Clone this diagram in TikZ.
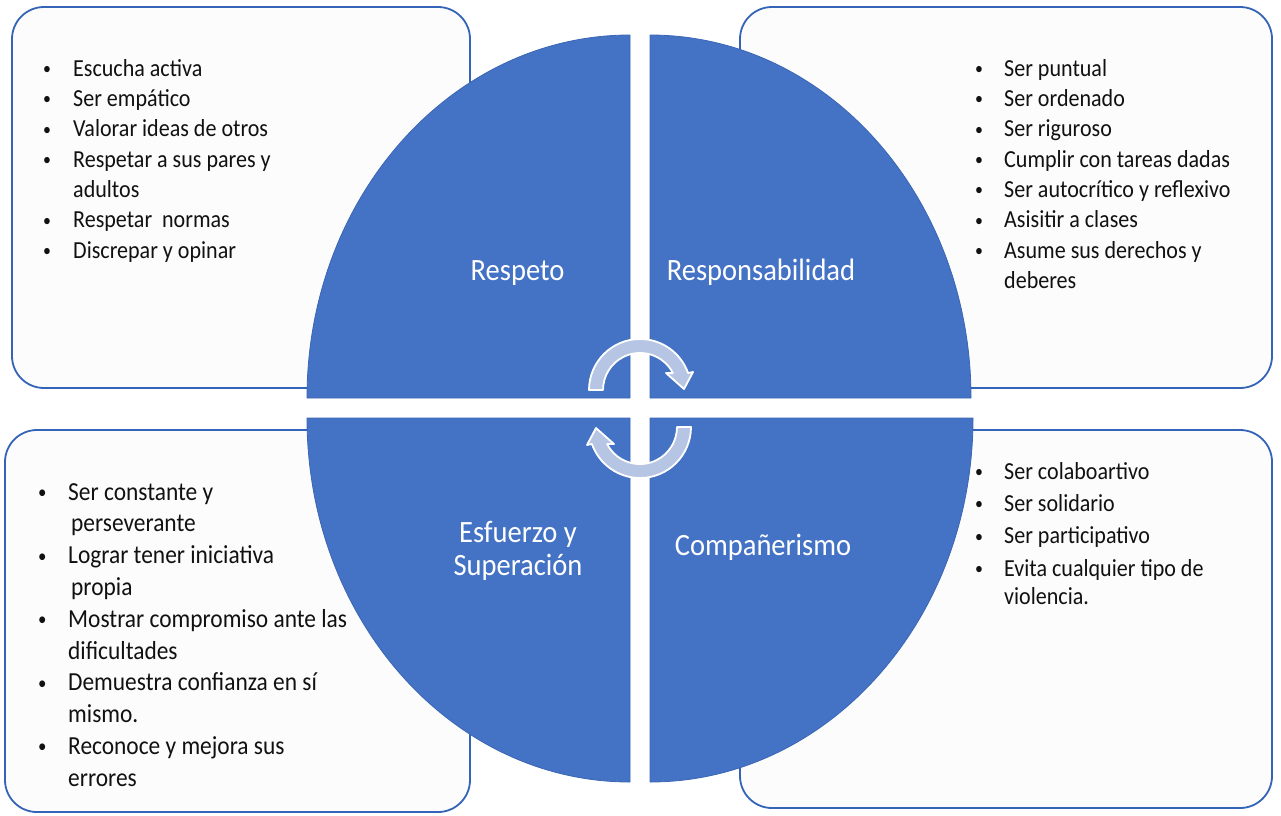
\documentclass[tikz,border=0pt]{standalone}
\usepackage{fontspec}
\setmainfont{Carlito}
\newfontfamily\bodyfont{Carlito}[FakeStretch=0.9]
\newfontfamily\labfont{Carlito}[FakeStretch=0.92]
\definecolor{quad}{HTML}{4472C4}
\definecolor{quadline}{HTML}{3B66B5}
\definecolor{boxline}{HTML}{3464B8}
\definecolor{boxfill}{HTML}{FCFCFC}
\definecolor{arrowfill}{HTML}{B7C5E4}
\definecolor{txt}{HTML}{111111}
\newcommand{\smallbul}{\raisebox{1.6pt}{\scalebox{0.72}{•}}}
\newcommand{\bitem}[2][30pt]{\makebox[#1][l]{\smallbul}#2}
\newcommand{\bcont}[2][30pt]{\hspace*{#1}#2}
\tikzset{
  box/.style={draw=boxline, line width=1.8pt, fill=boxfill, rounded corners=32pt, inner sep=0pt},
  quadrant/.style={fill=quad, draw=quadline, line width=0.8pt},
  listtext/.style={anchor=north west, inner sep=0pt, align=left, text=txt},
  lab/.style={inner sep=0pt, text=white, font=\labfont\fontsize{31}{33}\selectfont},
  cyc/.style={fill=arrowfill, draw=white, line width=1.8pt, line join=round}
}
\begin{document}
\begin{tikzpicture}[x=1pt,y=-1pt]
\useasboundingbox (0,0) rectangle (1281,815);
% boxes
\node[box, minimum width=458pt, minimum height=381pt] (boxTL) at (241,197.5) {};
\node[box, minimum width=532pt, minimum height=381pt] (boxTR) at (1006,197.5) {};
\node[box, minimum width=465pt, minimum height=382pt] (boxBL) at (237.5,621) {};
\node[box, minimum width=532pt, minimum height=378pt] (boxBR) at (1006,619) {};
% quadrants
\path[quadrant] (630,398) -- (307,398) arc[start angle=180, end angle=270, x radius=323, y radius=363] -- cycle;
\path[quadrant] (650,398) -- (650,35) arc[start angle=270, end angle=360, x radius=321, y radius=363] -- cycle;
\path[quadrant] (650,418) -- (973,418) arc[start angle=0, end angle=90, x radius=323, y radius=364] -- cycle;
\path[quadrant] (630,418) -- (630,782) arc[start angle=90, end angle=180, x radius=323, y radius=364] -- cycle;
% labels
\node[lab, anchor=base] (lRes) at (517.5,280) {Respeto};
\node[lab, anchor=base] (lResp) at (761,280) {Responsabilidad};
\node[lab, anchor=north, align=center] (lEsf) at (518,518.9) {\strut Esfuerzo y\\Superación};
\node[lab, anchor=base] (lComp) at (763,555) {Compañerismo};
% lists
\node[listtext, font=\bodyfont\fontsize{24.5}{30.3}\selectfont] (tTL) at (43,54.8) {%
\strut\bitem{Escucha activa}\\
\bitem{Ser empático}\\
\bitem{Valorar ideas de otros}\\
\bitem{Respetar a sus pares y}\\
\bcont{adultos}\\
\bitem{Respetar\ \ normas}\\
\bitem{Discrepar y opinar}};
\node[listtext, font=\bodyfont\fontsize{24.5}{30.3}\selectfont] (tTR) at (975,54.8) {%
\strut\bitem[29pt]{Ser puntual}\\
\bitem[29pt]{Ser ordenado}\\
\bitem[29pt]{Ser riguroso}\\
\bitem[29pt]{Cumplir con tareas dadas}\\
\bitem[29pt]{Ser autocrítico y reflexivo}\\
\bitem[29pt]{Asisitir a clases}\\
\bitem[29pt]{Asume sus derechos y}\\
\bcont[29pt]{deberes}};
\node[listtext, font=\bodyfont\fontsize{26}{31.8}\selectfont] (tBL) at (38,477.7) {%
\strut\bitem{Ser constante y}\\
\bcont[33pt]{perseverante}\\
\bitem{Lograr tener iniciativa}\\
\bcont[33pt]{propia}\\
\bitem{Mostrar compromiso ante las}\\
\bcont{dificultades}\\
\bitem{Demuestra confianza en sí}\\
\bcont{mismo.}\\
\bitem{Reconoce y mejora sus}\\
\bcont{errores}};
\node[listtext, font=\bodyfont\fontsize{24.5}{28}\selectfont] (tBR) at (975,459.4) {%
\strut\bitem[29pt]{Ser colaboartivo}\\[4.3pt]
\bitem[29pt]{Ser solidario}\\[4.3pt]
\bitem[29pt]{Ser participativo}\\[4.3pt]
\bitem[29pt]{Evita cualquier tipo de}\\
\bcont[29pt]{violencia.}};
% circular arrows
\path[cyc] (589,390) arc[start angle=180, end angle=340.5, radius=51] -- (693,372) -- (684,389) -- (666,373) -- (672.9,373) arc[start angle=332.7, end angle=180, radius=37] -- cycle;
\begin{scope}[rotate around={180:(640,408.5)}]
\path[cyc] (589,390) arc[start angle=180, end angle=340.5, radius=51] -- (693,372) -- (684,389) -- (666,373) -- (672.9,373) arc[start angle=332.7, end angle=180, radius=37] -- cycle;
\end{scope}
\end{tikzpicture}
\end{document}
